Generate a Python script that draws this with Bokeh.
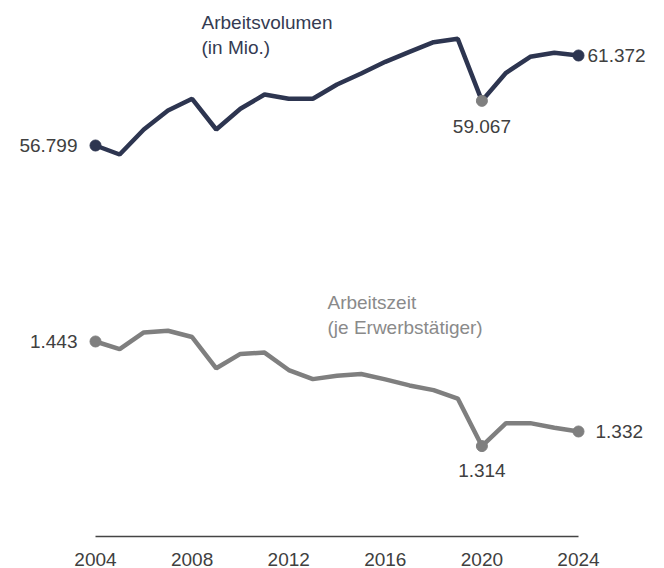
from bokeh.plotting import figure
from bokeh.models import Range1d, FixedTicker, Label
from bokeh.core.properties import value
from bokeh.embed import file_html
from bokeh.resources import INLINE

years = list(range(2004, 2025))
volumen = [56.799, 56.342, 57.612, 58.577, 59.172, 57.612, 58.664, 59.390, 59.172, 59.172,
           59.898, 60.457, 61.052, 61.560, 62.048, 62.220, 59.067, 60.493, 61.306, 61.509, 61.372]
arbeitszeit = [1.443, 1.4336, 1.4542, 1.4563, 1.4485, 1.410, 1.4277, 1.4293, 1.4078, 1.3966,
               1.4007, 1.4029, 1.3963, 1.3888, 1.383, 1.3726, 1.314, 1.3423, 1.3423, 1.3366, 1.332]
tick_years = [2004, 2008, 2012, 2016, 2020, 2024]
title_volumen = "Arbeitsvolumen\n(in Mio.)"
title_zeit = "Arbeitszeit\n(je Erwerbstätiger)"

NAVY = "#2d3550"
GRAY = "#7f7f7f"
TXT = "#404040"
FONT = "Liberation Sans"

p = figure(width=664, height=568, output_backend="svg", toolbar_location=None,
           x_range=Range1d(2000.066, 2027.561), y_range=Range1d(36.931, 64.167),
           min_border=0, y_axis_location=None)
p.extra_y_ranges = {"zeit": Range1d(1.20249, 1.86357)}
p.grid.visible = False
p.outline_line_color = None
p.background_fill_color = "white"
p.border_fill_color = "white"

ax = p.xaxis[0]
ax.ticker = FixedTicker(ticks=tick_years)
ax.bounds = (years[0], years[-1])
ax.major_tick_line_color = None
ax.minor_tick_line_color = None
ax.axis_line_color = "#444444"
ax.axis_line_width = 1.5
ax.major_label_text_font = FONT
ax.major_label_text_font_size = "19px"
ax.major_label_text_color = TXT
ax.major_label_standoff = 10

# lines
p.line(years, volumen, line_color=NAVY, line_width=4.5)
p.line(years, arbeitszeit, line_color=GRAY, line_width=4.5, y_range_name="zeit")

i_min = volumen.index(min(volumen[10:]))  # 2020 dip
i_first, i_last = 0, len(years) - 1
iz_min = arbeitszeit.index(min(arbeitszeit))

# markers
p.scatter([years[i_first], years[i_last]], [volumen[i_first], volumen[i_last]],
          size=11, color=NAVY)
p.scatter([years[i_min]], [volumen[i_min]], size=11, color=GRAY)
p.scatter([years[i_first], years[i_last], years[iz_min]],
          [arbeitszeit[i_first], arbeitszeit[i_last], arbeitszeit[iz_min]],
          size=11, color=GRAY, y_range_name="zeit")

def lab(x, y, txt, align, xo, yo, rng="default"):
    p.text([x], [y], text=[txt], text_align=align, text_baseline="middle",
           x_offset=xo, y_offset=yo, text_font=value(FONT), text_font_size="19px",
           text_color=TXT, y_range_name=rng)

lab(years[i_first], volumen[i_first], f"{volumen[i_first]:.3f}", "right", -18, 0)
lab(years[i_last], volumen[i_last], f"{volumen[i_last]:.3f}", "left", 9, 0)
lab(years[i_min], volumen[i_min], f"{volumen[i_min]:.3f}", "center", 0, 26)
lab(years[i_first], arbeitszeit[i_first], f"{arbeitszeit[i_first]:.3f}", "right", -18, 0, "zeit")
lab(years[i_last], arbeitszeit[i_last], f"{arbeitszeit[i_last]:.3f}", "left", 17, 0, "zeit")
lab(years[iz_min], arbeitszeit[iz_min], f"{arbeitszeit[iz_min]:.3f}", "center", 0, 24, "zeit")

p.add_layout(Label(x=2008.389, y=63.578, text=title_volumen, text_align="left",
                   text_baseline="top", text_font=FONT, text_font_size="19px",
                   text_color="#343b52", text_line_height=1.2))
p.add_layout(Label(x=2013.606, y=1.50392, y_range_name="zeit", text=title_zeit,
                   text_align="left", text_baseline="top", text_font=FONT,
                   text_font_size="19px", text_color="#8a8a8a", text_line_height=1.2))

open("out.html", "w").write(file_html(p, INLINE))
